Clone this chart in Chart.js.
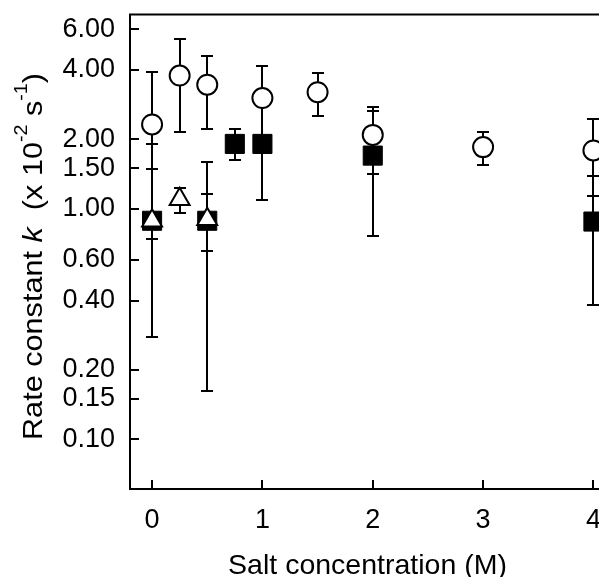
<!DOCTYPE html>
<html><head><meta charset="utf-8">
<script src="https://cdn.jsdelivr.net/npm/chart.js@4"></script>
<style>html,body{margin:0;padding:0;background:#fff;overflow:hidden}#wrap{width:599px;height:577px;overflow:hidden;position:relative;background:#fff}canvas{display:block}</style>
</head><body><div id="wrap"><canvas id="c" width="630" height="577" style="width:630px;height:577px"></canvas></div>
<script>
const xTicks=[0,1,2,3,4];
const yTicks=[0.10,0.15,0.20,0.40,0.60,1.00,1.50,2.00,4.00,6.00];
const circleX=[0,0.25,0.5,1,1.5,2,3,4];
const circleY=[2.32,3.78,3.45,3.02,3.20,2.09,1.85,1.79];
const circleLo=[0.74,2.15,2.22,1.87,2.52,1.42,1.55,1.14];
const circleHi=[3.90,5.44,4.61,4.17,3.88,2.77,2.15,2.45];
const squareX=[0,0.5,0.75,1,2,4];
const squareY=[0.887,0.887,1.91,1.91,1.70,0.88];
const squareLo=[0.277,0.162,1.62,1.086,0.759,0.381];
const squareHi=[1.49,1.60,2.22,2.85,2.66,1.39];
const triX=[0,0.25,0.5];
const triY=[0.887,1.10,0.90];
const triLo=[0.887,0.96,0.655];
const triHi=[1.91,1.23,1.16];
const xTitle='Salt concentration (M)';
const yTitleParts=[['Rate constant ','n'],['k','i'],['  (x 10','n'],['-2','s'],[' s','n'],['-1','s'],[')','n']];

const FAM='"Liberation Sans", Arial, sans-serif';
function pts(xs,ys,lo,hi){return xs.map((x,i)=>({x:x,y:ys[i],lo:lo[i],hi:hi[i]}));}

const extras={id:'extras',
  beforeDatasetsDraw(chart){
    const ctx=chart.ctx, xs=chart.scales.x, ys=chart.scales.y, ca=chart.chartArea;
    ctx.save(); ctx.strokeStyle='#000'; ctx.lineWidth=2; ctx.lineCap='butt';
    ctx.beginPath();
    xTicks.forEach(v=>{const p=Math.round(xs.getPixelForValue(v));ctx.moveTo(p,ca.bottom);ctx.lineTo(p,ca.bottom-9);});
    yTicks.forEach(v=>{const p=Math.round(ys.getPixelForValue(v));ctx.moveTo(ca.left,p);ctx.lineTo(ca.left+9,p);});
    ctx.moveTo(ca.left-1,ca.top);ctx.lineTo(ca.right,ca.top);
    ctx.stroke();
    chart.data.datasets.forEach(ds=>{
      ds.data.forEach(p=>{
        const px=Math.round(xs.getPixelForValue(p.x)), lo=Math.round(ys.getPixelForValue(p.lo)), hi=Math.round(ys.getPixelForValue(p.hi));
        ctx.beginPath();
        ctx.moveTo(px,lo);ctx.lineTo(px,hi);
        ctx.moveTo(px-6,lo);ctx.lineTo(px+6,lo);
        ctx.moveTo(px-6,hi);ctx.lineTo(px+6,hi);
        ctx.stroke();
      });
    });
    ctx.restore();
  },
  afterDraw(chart){
    const ctx=chart.ctx;
    ctx.save();
    ctx.fillStyle='#000';
    ctx.font='28.5px '+FAM;
    ctx.textAlign='center';ctx.textBaseline='alphabetic';
    ctx.fillText(xTitle,367.5,574);
    const fonts={n:'28px '+FAM,i:'italic 28px '+FAM,s:'18px '+FAM};
    let total=0;
    yTitleParts.forEach(([t,k])=>{ctx.font=fonts[k];total+=ctx.measureText(t).width;});
    const sx=367/total;
    ctx.translate(42,440);ctx.rotate(-Math.PI/2);ctx.scale(sx,1);
    ctx.textAlign='left';
    let x=0;
    yTitleParts.forEach(([t,k])=>{ctx.font=fonts[k];ctx.fillText(t,x,k==='s'?-15:0);x+=ctx.measureText(t).width;});
    ctx.restore();
  }
};

new Chart(document.getElementById('c'),{
  type:'scatter',
  data:{datasets:[
    {label:'triangle',data:pts(triX,triY,triLo,triHi),pointStyle:'triangle',pointRadius:11.5,pointHoverRadius:11.5,backgroundColor:'#fff',borderColor:'#000',borderWidth:2,showLine:false},
    {label:'circle',data:pts(circleX,circleY,circleLo,circleHi),pointStyle:'circle',pointRadius:10,pointHoverRadius:10,backgroundColor:'#fff',borderColor:'#000',borderWidth:2,showLine:false},
    {label:'square',data:pts(squareX,squareY,squareLo,squareHi),pointStyle:'rect',pointRadius:13.5,pointHoverRadius:13.5,backgroundColor:'#000',borderColor:'#000',borderWidth:1,showLine:false}
  ]},
  options:{
    responsive:false,animation:false,devicePixelRatio:1,
    layout:{padding:{top:14,right:13.9,left:0,bottom:0}},
    plugins:{legend:{display:false},tooltip:{enabled:false}},
    events:[],
    scales:{
      x:{type:'linear',min:-0.2,max:4.2,
        afterFit(s){s.height=88;s.paddingLeft=0;s.paddingRight=0;},
        afterBuildTicks(s){s.ticks=xTicks.map(v=>({value:v}));},
        grid:{display:false,drawTicks:false},
        border:{display:true,color:'#000',width:2},
        ticks:{padding:15,color:'#000',font:{family:FAM,size:27},callback:v=>String(v),maxRotation:0,autoSkip:false}
      },
      y:{type:'logarithmic',min:0.061,max:6.95,
        afterFit(s){s.width=130;s.paddingTop=0;s.paddingBottom=0;},
        afterBuildTicks(s){s.ticks=yTicks.map(v=>({value:v}));},
        grid:{display:false,drawTicks:false},
        border:{display:true,color:'#000',width:2},
        ticks:{padding:15,color:'#000',font:{family:FAM,size:27},callback:v=>Number(v).toFixed(2),autoSkip:false}
      }
    }
  },
  plugins:[extras]
});
</script></body></html>
